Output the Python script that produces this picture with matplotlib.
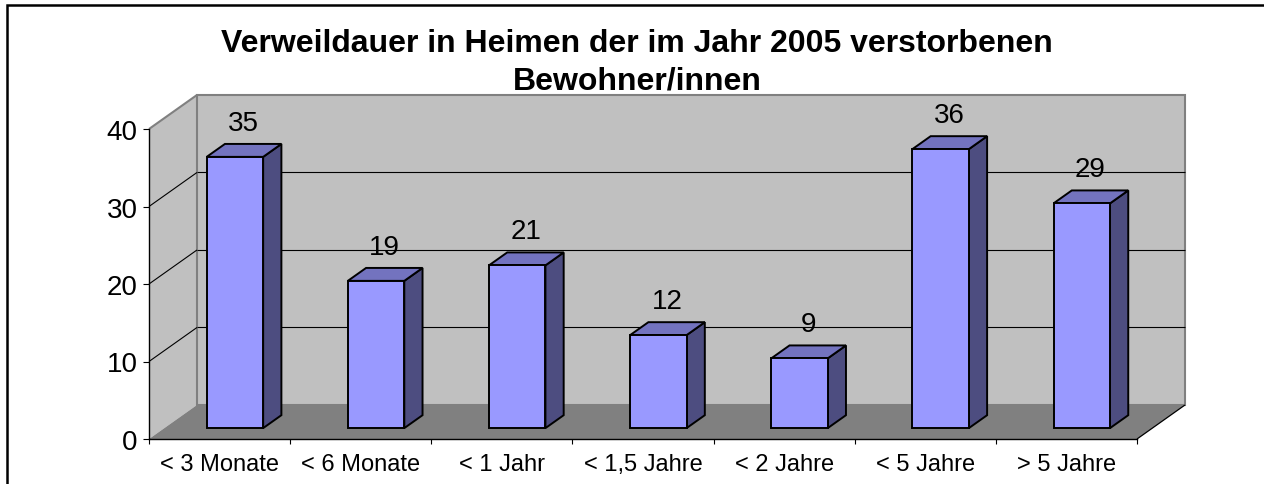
import numpy as np
import matplotlib
matplotlib.use("Agg")
import matplotlib.pyplot as plt
from matplotlib.patches import Polygon, Rectangle

plt.rcParams['font.family'] = ['Liberation Sans', 'DejaVu Sans']

# data
categories = ["< 3 Monate", "< 6 Monate", "< 1 Jahr", "< 1,5 Jahre",
              "< 2 Jahre", "< 5 Jahre", "> 5 Jahre"]
values = [35, 19, 21, 12, 9, 36, 29]
yticks = [0, 10, 20, 30, 40]
title = "Verweildauer in Heimen der im Jahr 2005 verstorbenen\nBewohner/innen"

# fake 3d: depth offset in data units (categories / values)
DX = 0.34
DY = 4.39
D0, D1 = 0.32, 0.70   # depth range of bars
BAR_W = 0.40
YMAX = 40

FRONT = "#9999FF"
SIDE = "#4D4D80"
TOP = "#7373BF"
WALL = "#C0C0C0"
FLOOR = "#808080"


def proj(x, v, d):
    return (x + d * DX, v + d * DY)


def poly(ax, pts, fc, ec="none", lw=0, z=1):
    ax.add_patch(Polygon([proj(*p) for p in pts], closed=True, facecolor=fc,
                         edgecolor=ec, linewidth=lw, zorder=z, clip_on=False,
                         joinstyle="miter"))


def line(ax, p, q, color="black", lw=0.8, z=2):
    a, b = proj(*p), proj(*q)
    ax.plot([a[0], b[0]], [a[1], b[1]], color=color, lw=lw, zorder=z,
            clip_on=False, solid_capstyle="butt")


fig = plt.figure(figsize=(12.64, 4.85), dpi=100)
ax = fig.add_axes([149 / 1264, 45 / 485, 988 / 1264, 310 / 485])
n = len(categories)
ax.set_xlim(0, n)
ax.set_ylim(0, YMAX)
ax.patch.set_visible(False)

# walls and floor
poly(ax, [(0, 0, 0), (0, YMAX, 0), (0, YMAX, 1), (0, 0, 1)], WALL)
poly(ax, [(0, 0, 1), (0, YMAX, 1), (n, YMAX, 1), (n, 0, 1)], WALL, "#808080", 1.5)
poly(ax, [(0, 0, 0), (n, 0, 0), (n, 0, 1), (0, 0, 1)], FLOOR)
line(ax, (0, YMAX, 0), (0, YMAX, 1), color="#808080", lw=1.5)
line(ax, (n, 0, 0), (n, 0, 1), color="black", lw=0.9)

for t in yticks[1:-1]:
    line(ax, (0, t, 1), (n, t, 1))
    line(ax, (0, t, 0), (0, t, 1))

# bars
for i, v in enumerate(values):
    x0 = i + 0.5 - BAR_W / 2
    x1 = x0 + BAR_W
    poly(ax, [(x1, 0, D0), (x1, 0, D1), (x1, v, D1), (x1, v, D0)], SIDE, "black", 1.4, 3)
    poly(ax, [(x0, v, D0), (x1, v, D0), (x1, v, D1), (x0, v, D1)], TOP, "black", 1.4, 3)
    poly(ax, [(x0, 0, D0), (x1, 0, D0), (x1, v, D0), (x0, v, D0)], FRONT, "black", 1.4, 3)
    ax.annotate(str(v), xy=proj(i + 0.5, v, 0.5), xytext=(0, 20),
                textcoords="offset points", ha="center", va="center",
                fontsize=20, zorder=4)

# axes
for s in ["top", "right"]:
    ax.spines[s].set_visible(False)
for s in ["left", "bottom"]:
    ax.spines[s].set_color("black")
    ax.spines[s].set_linewidth(1.0)
    ax.spines[s].set_zorder(2.5)

ax.set_yticks(yticks)
ax.tick_params(axis="y", direction="out", length=4.3, width=0.8, labelsize=20, pad=4)

ax.set_xticks(np.arange(n + 1))
ax.set_xticklabels([])
ax.set_xticks(np.arange(n) + 0.5, minor=True)
ax.set_xticklabels(categories, minor=True)
ax.tick_params(axis="x", which="major", direction="out", length=3.6, width=0.8)
ax.tick_params(axis="x", which="minor", length=0, labelsize=17, pad=10)

fig.text(637 / 1264, 1 - 29 / 485, title, ha="center", va="top",
         fontsize=23, fontweight="bold", linespacing=1.32)

# outer frame (runs off the right and bottom edge)
fig.patches.append(Rectangle((7 / 1264, -0.1), 2, 1.1 - 6 / 485,
                             transform=fig.transFigure, fill=False,
                             edgecolor="black", linewidth=1.8))

fig.savefig("out.png", dpi=100)
